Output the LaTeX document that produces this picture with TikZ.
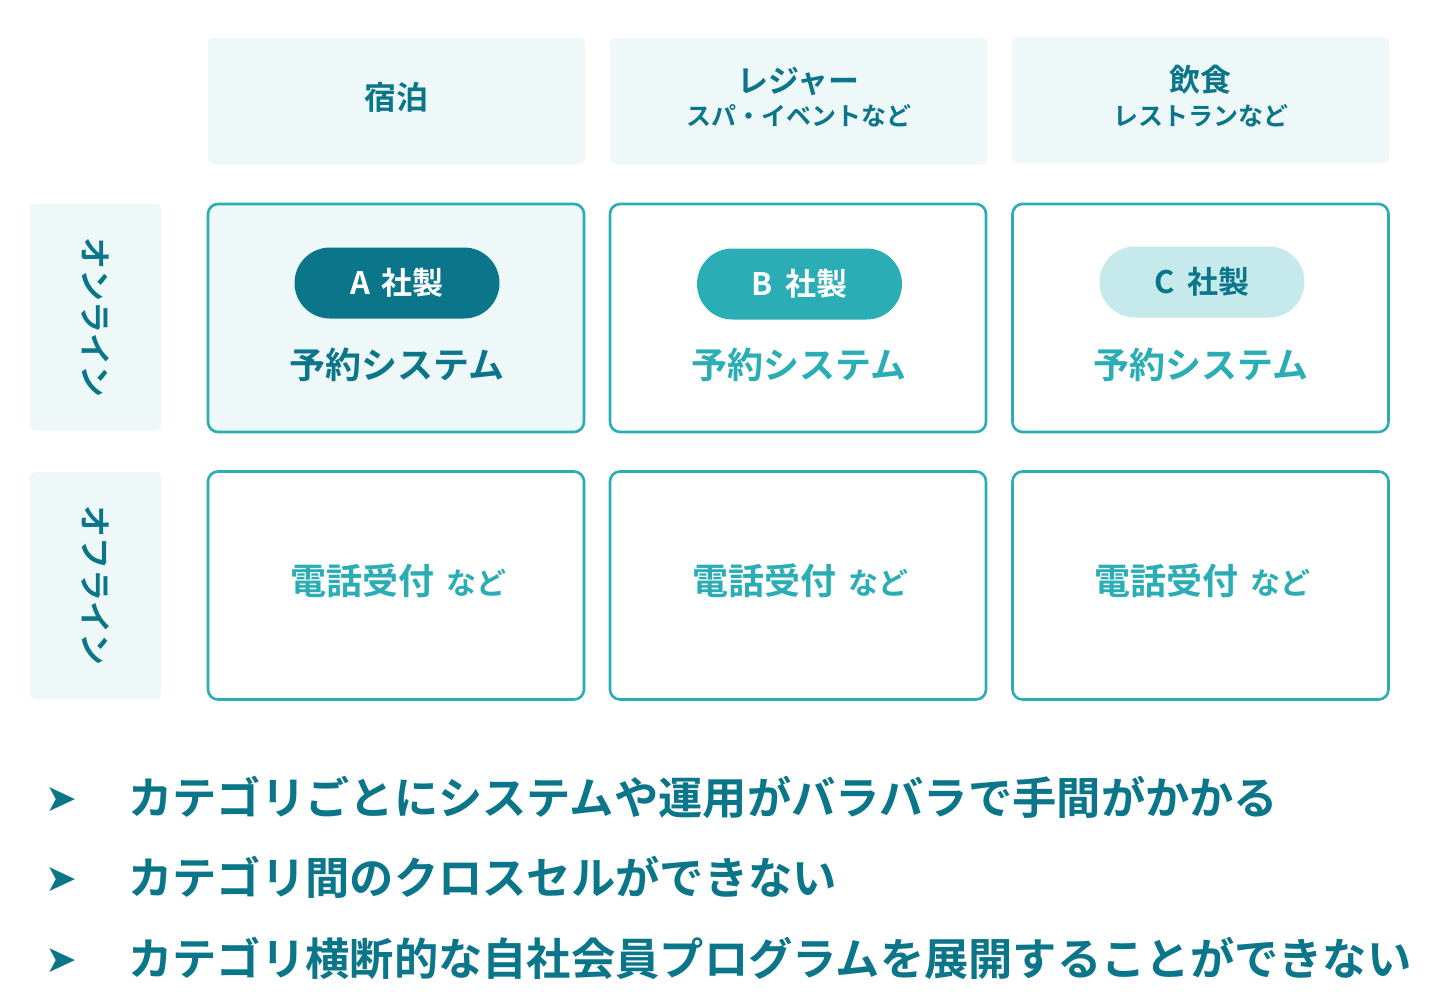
\documentclass[tikz,border=0pt]{standalone}
\usepackage{fontspec}
\setmainfont{Noto Sans CJK JP}[BoldFont={* Bold}]
\newfontfamily\symfont{DejaVu Sans}
\definecolor{tdark}{HTML}{0B7689}
\definecolor{tmid}{HTML}{2AADB4}
\definecolor{tlight}{HTML}{C6E9EC}
\definecolor{bgl}{HTML}{EEF8F9}
\newcommand{\fs}[1]{\fontsize{#1}{#1}\selectfont}
\tikzset{
  hdr/.style={fill=bgl, rounded corners=6pt, minimum width=377pt, minimum height=127pt, inner sep=0pt},
  side/.style={fill=bgl, rounded corners=5pt, minimum width=131pt, minimum height=227pt, inner sep=0pt},
  cell/.style={draw=tmid, line width=2.6pt, rounded corners=10pt, minimum width=376pt, minimum height=228pt, inner sep=0pt},
  pill/.style={rounded corners=35.5pt, minimum width=205pt, minimum height=71pt, inner sep=0pt, font=\bfseries\fs{31}},
  txt/.style={inner sep=0pt, font=\bfseries, text=tdark},
}
\newcommand{\phonetxt}{\fs{36}電話受付\hspace{12pt}\fs{30}など}
\begin{document}
\begin{tikzpicture}[x=1pt,y=-1pt]
\useasboundingbox[fill=white] (0,0) rectangle (1440,1001);
% headers
\node[hdr] (h1) at (396.5,101) {};
\node[hdr] (h2) at (798.5,101) {};
\node[hdr, minimum height=126pt] (h3) at (1200.5,100) {};
\node[txt, font=\bfseries\fs{32}] (h1t) at (396.5,97) {宿泊};
\node[txt, font=\bfseries\fs{31}] (h2t) at (798.5,81) {レジャー};
\node[txt, font=\bfseries\fs{25}] (h2s) at (798.5,116) {スパ・イベントなど};
\node[txt, font=\bfseries\fs{31}] (h3t) at (1200.5,80) {飲食};
\node[txt, font=\bfseries\fs{25}] (h3s) at (1200.5,116) {レストランなど};
% side labels
\node[side] (s1) at (95.5,317) {};
\node[side] (s2) at (95.5,585.5) {};
\node[txt, font=\bfseries\fs{32}, rotate=-90] (s1t) at (s1.center) {オンライン};
\node[txt, font=\bfseries\fs{32}, rotate=-90] (s2t) at (s2.center) {オフライン};
% online cells
\node[cell, fill=bgl] (ca) at (396,318) {};
\node[cell] (cb) at (798,318) {};
\node[cell] (cc) at (1200.5,318) {};
\node[pill, fill=tdark, text=white] (pa) at (397,283) {A\hspace{12pt}社製};
\node[pill, fill=tmid, text=white] (pb) at (799.5,284) {B\hspace{12pt}社製};
\node[pill, fill=tlight, text=tdark] (pc) at (1202,282) {C\hspace{12pt}社製};
\node[txt, font=\bfseries\fs{36}] (ya) at (397,365) {予約システム};
\node[txt, font=\bfseries\fs{36}, text=tmid] (yb) at (799,365) {予約システム};
\node[txt, font=\bfseries\fs{36}, text=tmid] (yc) at (1201,365) {予約システム};
% offline cells
\node[cell] (oa) at (396,585.5) {};
\node[cell] (ob) at (798,585.5) {};
\node[cell] (oc) at (1200.5,585.5) {};
\node[txt, text=tmid] (ta) at (398,581) {\phonetxt};
\node[txt, text=tmid] (tb) at (800,581) {\phonetxt};
\node[txt, text=tmid] (tc) at (1202,581) {\phonetxt};
% bullets
\foreach \y/\t [count=\i] in {797/カテゴリごとにシステムや運用がバラバラで手間がかかる, 877/カテゴリ間のクロスセルができない, 958/カテゴリ横断的な自社会員プログラムを展開することができない}{
  \node[txt, text=tdark, font=\symfont\fs{38}] (b\i) at (61,\y+3) {➤};
  \node[txt, anchor=west, font=\bfseries\fs{44.3}] (l\i) at (128,\y) {\t};
}
\end{tikzpicture}
\end{document}
